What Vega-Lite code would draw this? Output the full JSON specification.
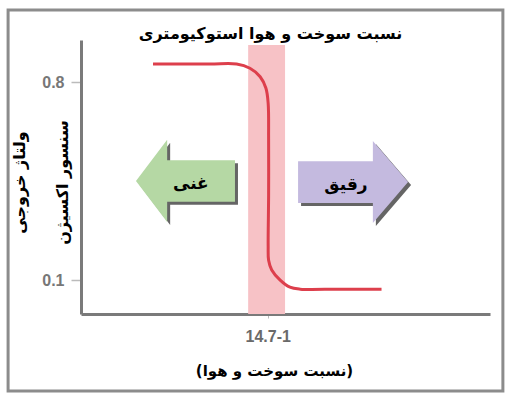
{
  "$schema": "https://vega.github.io/schema/vega-lite/v6.json",
  "width": 409,
  "height": 274,
  "autosize": {"type": "none"},
  "padding": {"left": 81, "top": 40, "right": 18, "bottom": 81},
  "background": "white",
  "config": {"view": {"stroke": null}},
  "title": {
    "text": "نسبت سوخت و هوا استوکیومتری",
    "font": "DejaVu Sans",
    "fontSize": 16,
    "fontWeight": "bold",
    "color": "black",
    "anchor": "middle",
    "dx": -15,
    "baseline": "alphabetic",
    "offset": -46
  },
  "encoding": {
    "x": {
      "field": "x",
      "type": "quantitative",
      "scale": {"domain": [10.5, 19.7], "nice": false, "zero": false},
      "axis": {
        "values": [14.7],
        "labelExpr": "'14.7-1'",
        "labelFont": "Liberation Sans",
        "labelFontWeight": "bold",
        "labelFontSize": 16,
        "labelColor": "#6a6a6a",
        "tickColor": "#bbbbbb",
        "tickSize": 4,
        "labelPadding": 10,
        "domainColor": "#7a7a7a",
        "domainWidth": 3,
        "grid": false,
        "title": "(نسبت سوخت و هوا)",
        "titleFont": "DejaVu Sans",
        "titleFontSize": 15,
        "titleFontWeight": "bold",
        "titleColor": "black",
        "titleX": 193,
        "titleY": 56,
        "titleBaseline": "middle"
      }
    },
    "y": {
      "field": "y",
      "type": "quantitative",
      "scale": {"domain": [-0.02, 0.95], "nice": false, "zero": false},
      "axis": {
        "values": [0.1, 0.8],
        "format": ".1f",
        "labelFont": "Liberation Sans",
        "labelFontWeight": "bold",
        "labelFontSize": 16,
        "labelColor": "#777777",
        "tickColor": "#bbbbbb",
        "tickSize": 10,
        "tickWidth": 1.5,
        "labelPadding": 7,
        "domainColor": "#7a7a7a",
        "domainWidth": 3,
        "grid": false,
        "title": ["ولتاژ خروجی", "سنسور اکسیژن"],
        "titleFont": "DejaVu Sans",
        "titleFontSize": 16,
        "titleFontWeight": "bold",
        "titleColor": "black",
        "titleLineHeight": 43,
        "titleX": -62,
        "titleY": 142,
        "titleBaseline": "middle",
        "titleAngle": 270
      }
    }
  },
  "layer": [
    {
      "data": {"values": [{"x": 8.86, "x2": 19.99, "y": -0.293, "y2": 1.056}]},
      "mark": {"type": "rect", "fill": null, "stroke": "#8c8c8c", "strokeWidth": 3},
      "encoding": {"x2": {"field": "x2"}, "y2": {"field": "y2"}}
    },
    {
      "data": {"values": [{"x": 14.26, "x2": 15.09, "y": -0.02, "y2": 0.932}]},
      "mark": {"type": "rect", "fill": "#f7c2c6"},
      "encoding": {"x2": {"field": "x2"}, "y2": {"field": "y2"}}
    },
    {
      "data": {"values": [
        {"o": 1, "x": 12.12, "y": 0.865},
        {"o": 2, "x": 13.40, "y": 0.865},
        {"o": 3, "x": 14.00, "y": 0.865},
        {"o": 4, "x": 14.30, "y": 0.850},
        {"o": 5, "x": 14.53, "y": 0.820},
        {"o": 6, "x": 14.66, "y": 0.779},
        {"o": 7, "x": 14.71, "y": 0.726},
        {"o": 8, "x": 14.72, "y": 0.60},
        {"o": 9, "x": 14.72, "y": 0.40},
        {"o": 10, "x": 14.71, "y": 0.22},
        {"o": 11, "x": 14.72, "y": 0.17},
        {"o": 12, "x": 14.79, "y": 0.136},
        {"o": 13, "x": 14.98, "y": 0.100},
        {"o": 14, "x": 15.20, "y": 0.075},
        {"o": 15, "x": 15.43, "y": 0.068},
        {"o": 16, "x": 16.30, "y": 0.068},
        {"o": 17, "x": 17.26, "y": 0.068}
      ]},
      "mark": {"type": "line", "color": "#dd3f4c", "strokeWidth": 3, "interpolate": "catmull-rom"},
      "encoding": {"order": {"field": "o", "type": "quantitative"}}
    },
    {
      "data": {"values": [{"x": 12.85, "y": 0.451}]},
      "mark": {"type": "point", "filled": true, "fill": "#4a4a4a", "opacity": 0.85, "strokeWidth": 0, "size": 9801, "xOffset": 3, "yOffset": 3,
        "shape": "M-1,0L-0.37,-0.83L-0.37,-0.42L1,-0.42L1,0.42L-0.37,0.42L-0.37,0.83Z"}
    },
    {
      "data": {"values": [{"x": 12.85, "y": 0.451}]},
      "mark": {"type": "point", "filled": true, "fill": "#b5d8a4", "opacity": 1, "strokeWidth": 0, "size": 9801,
        "shape": "M-1,0L-0.37,-0.83L-0.37,-0.42L1,-0.42L1,0.42L-0.37,0.42L-0.37,0.83Z"}
    },
    {
      "data": {"values": [{"x": 16.62, "y": 0.447}]},
      "mark": {"type": "point", "filled": true, "fill": "#4a4a4a", "opacity": 0.85, "strokeWidth": 0, "size": 12100, "xOffset": 3, "yOffset": 3,
        "shape": "M1,0L0.36,-0.745L0.36,-0.38L-1,-0.38L-1,0.38L0.36,0.38L0.36,0.745Z"}
    },
    {
      "data": {"values": [{"x": 16.62, "y": 0.447}]},
      "mark": {"type": "point", "filled": true, "fill": "#c4badf", "opacity": 1, "strokeWidth": 0, "size": 12100,
        "shape": "M1,0L0.36,-0.745L0.36,-0.38L-1,-0.38L-1,0.38L0.36,0.38L0.36,0.745Z"}
    },
    {
      "data": {"values": [{"x": 12.97, "y": 0.440, "label": "غنی"}, {"x": 16.46, "y": 0.437, "label": "رقیق"}]},
      "mark": {"type": "text", "font": "DejaVu Sans", "fontSize": 17, "fontWeight": "bold", "color": "black", "baseline": "middle", "align": "center"},
      "encoding": {"text": {"field": "label"}}
    }
  ]
}
